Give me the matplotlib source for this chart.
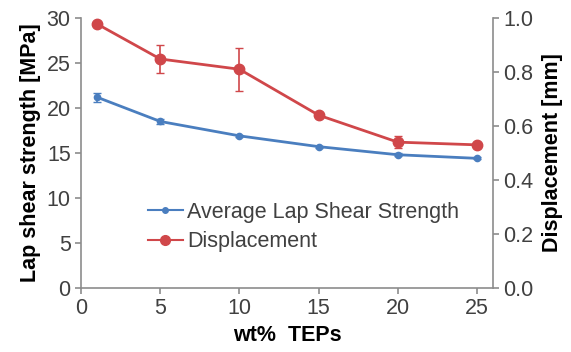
import numpy as np
import matplotlib
matplotlib.use("Agg")
import matplotlib.pyplot as plt
from matplotlib.lines import Line2D

plt.rcParams['font.family'] = ['Liberation Sans', 'DejaVu Sans']

wt = [1, 5, 10, 15, 20, 25]
shear = [21.2, 18.5, 16.9, 15.7, 14.8, 14.4]
shear_err = [0.5, 0.25, 0.1, 0.1, 0.15, 0.1]
disp = [0.978, 0.848, 0.81, 0.64, 0.54, 0.53]
disp_err = [0.0, 0.052, 0.08, 0.0, 0.022, 0.0]

blue = '#4a7ebf'
red = '#d0474a'
grey = '#8c8c8c'
tick_col = '#404040'
fs = 15.5

fig = plt.figure(figsize=(5.71, 3.52), dpi=100)
ax = fig.add_axes([0.142, 0.182, 0.721, 0.767])
ax2 = ax.twinx()

ax.errorbar(wt, shear, yerr=shear_err, color=blue, marker='o', ms=4.5, lw=2,
            capsize=3, elinewidth=1.2)
ax2.errorbar(wt, disp, yerr=disp_err, color=red, marker='o', ms=7.5, lw=2,
             capsize=3, elinewidth=1.2)

ax.set_xlim(0, 26)
ax.set_ylim(0, 30)
ax2.set_ylim(0, 1.0)
ax.set_xticks([0, 5, 10, 15, 20, 25])
ax.set_yticks(np.arange(0, 31, 5))
ax2.set_yticks([0.0, 0.2, 0.4, 0.6, 0.8, 1.0])
ax2.set_yticklabels(['0.0', '0.2', '0.4', '0.6', '0.8', '1.0'])

for a in (ax, ax2):
    a.spines['top'].set_visible(False)
    for s in ('left', 'right', 'bottom'):
        a.spines[s].set_color(grey)
        a.spines[s].set_linewidth(1.2)
    a.tick_params(colors=grey, labelcolor=tick_col, labelsize=fs, length=4, width=1.2)
ax.spines['right'].set_visible(False)
ax2.spines['left'].set_visible(False)
ax2.spines['bottom'].set_visible(False)

ax.set_xlabel('wt%  TEPs', fontsize=fs, fontweight='bold', labelpad=4)
ax.set_ylabel('Lap shear strength [MPa]', fontsize=fs, fontweight='bold', labelpad=4)
ax2.set_ylabel('Displacement [mm]', fontsize=fs, fontweight='bold', labelpad=6)

h1 = Line2D([], [], color=blue, marker='o', ms=4, lw=1.5)
h2 = Line2D([], [], color=red, marker='o', ms=7, lw=1.5)
ax.legend([h1, h2], ['Average Lap Shear Strength', 'Displacement'],
          loc='center left', bbox_to_anchor=(0.163, 0.226), frameon=False,
          fontsize=fs, handlelength=1.6, handletextpad=0.2, labelspacing=0.4,
          borderpad=0, borderaxespad=0, labelcolor=tick_col)

fig.savefig('out.png', dpi=100)
